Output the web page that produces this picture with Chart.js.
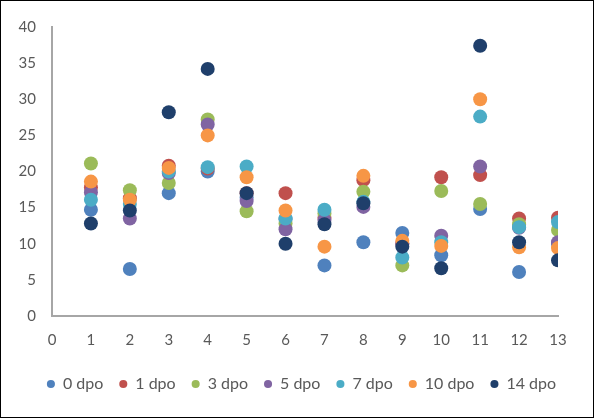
<!DOCTYPE html>
<html>
<head>
<meta charset="utf-8">
<script src="https://cdn.jsdelivr.net/npm/chart.js@4"></script>
<style>
  html, body { margin: 0; padding: 0; background: #fff; }
  #wrap { width: 594px; height: 418px; box-sizing: border-box; border: 1px solid #000; }
  #chart { display: block; }
</style>
</head>
<body>
<div id="wrap"><canvas id="chart" width="592" height="416"></canvas></div>
<script>
"use strict";
// x positions of each column
var xs = [1, 2, 3, 4, 5, 6, 7, 8, 9, 10, 11, 12, 13];
var seriesNames = ["0 dpo", "1 dpo", "3 dpo", "5 dpo", "7 dpo", "10 dpo", "14 dpo"];
var seriesColors = ["#4F81BD", "#C0504D", "#9BBB59", "#8064A2", "#4BACC6", "#F79646", "#1F3F6B"];

var dpo0  = [14.7, 6.5, 17.0, 20.0, 16.4, 13.4, 7.0, 10.2, 11.5, 8.4, 14.8, 6.1, 10.0];
var dpo1  = [17.8, 16.3, 20.8, 20.4, 17.0, 17.0, 13.6, 18.8, 10.0, 19.2, 19.5, 13.5, 13.6];
var dpo3  = [21.1, 17.4, 18.4, 27.2, 14.5, 12.8, 14.2, 17.2, 7.0, 17.3, 15.5, 12.7, 11.9];
var dpo5  = [17.1, 13.5, 19.8, 26.5, 15.9, 12.0, 13.3, 15.1, 10.0, 11.1, 20.7, 12.2, 10.2];
var dpo7  = [16.1, 15.5, 20.0, 20.6, 20.7, 13.5, 14.7, 15.8, 8.1, 10.2, 27.6, 12.3, 13.0];
var dpo10 = [18.6, 16.1, 20.5, 25.0, 19.2, 14.6, 9.6, 19.4, 10.4, 9.7, 30.0, 9.5, 9.4];
var dpo14 = [12.8, 14.6, 28.2, 34.2, 17.0, 10.0, 12.7, 15.6, 9.6, 6.6, 37.4, 10.2, 7.7];

var allSeries = [dpo0, dpo1, dpo3, dpo5, dpo7, dpo10, dpo14];

function toPoints(vals) {
    return xs.map(function (x, i) { return { x: x, y: vals[i] }; });
}

var datasets = allSeries.map(function (vals, k) {
    return {
        label: seriesNames[k],
        data: toPoints(vals),
        backgroundColor: seriesColors[k],
        borderColor: seriesColors[k],
        borderWidth: 0,
        pointRadius: 7,
        pointHoverRadius: 7,
        // later series sit on top, like the original
        order: allSeries.length - 1 - k
    };
});

var textColor = "#595959";
var axisColor = "#A6A6A6";

// the legend in the original sits a bit right of centre
var shiftLegend = {
    id: "shiftLegend",
    afterLayout: function (chart) {
        chart.legend.left += 22;
        chart.legend.right += 22;
    }
};

var ctx = document.getElementById("chart").getContext("2d");
var chart = new Chart(ctx, {
    type: "scatter",
    data: { datasets: datasets },
    plugins: [shiftLegend],
    options: {
        responsive: false,
        animation: false,
        layout: { padding: { left: 0, right: 35, top: 26, bottom: 15 } },
        scales: {
            x: {
                type: "linear",
                min: 0,
                max: 13,
                ticks: { stepSize: 1, color: textColor, font: { family: "Lato", size: 15 }, padding: 15 },
                grid: { drawOnChartArea: false, drawTicks: false },
                border: { color: axisColor, width: 2 },
                afterFit: function (scale) { scale.height = 44; }
            },
            y: {
                min: 0,
                max: 40,
                ticks: { stepSize: 5, color: textColor, font: { family: "Lato", size: 15 }, padding: 16 },
                grid: { drawOnChartArea: false, drawTicks: false },
                border: { color: axisColor, width: 2 },
                afterFit: function (scale) { scale.width = 51; }
            }
        },
        plugins: {
            tooltip: { enabled: false },
            legend: {
                position: "bottom",
                labels: {
                    usePointStyle: true,
                    pointStyle: "circle",
                    boxWidth: 8,
                    boxHeight: 5.7,
                    padding: 16,
                    color: textColor,
                    font: { family: "Lato", size: 16 },
                    sort: function (a, b) { return a.datasetIndex - b.datasetIndex; }
                }
            }
        }
    }
});
</script>
</body>
</html>
